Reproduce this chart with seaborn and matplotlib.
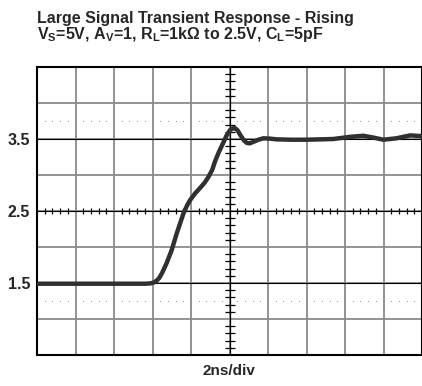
import numpy as np
import matplotlib
matplotlib.use("Agg")
import matplotlib.pyplot as plt
import seaborn as sns

# scope trace (time in ns, 2 ns/div; voltage in V)
time_ns = [0.0, 1.0, 2.0, 3.0, 4.0, 5.0, 5.6, 5.9, 6.05, 6.2, 6.35, 6.5,
           6.74, 7.0, 7.26, 7.6, 7.8, 7.95, 8.2, 8.47, 8.7, 8.9, 9.1, 9.25,
           9.45, 9.68, 9.85, 10.03, 10.18, 10.29, 10.42, 10.55, 10.75, 10.9,
           11.05, 11.24, 11.5, 11.77, 12.1, 12.45, 13.2, 14.0, 15.4, 16.26,
           16.95, 17.47, 17.99, 18.68, 19.38, 20.0]
volts = [1.49, 1.49, 1.49, 1.49, 1.49, 1.49, 1.49, 1.495, 1.505, 1.53, 1.57,
         1.64, 1.78, 1.96, 2.19, 2.46, 2.58, 2.65, 2.74, 2.82, 2.89, 2.97,
         3.07, 3.19, 3.32, 3.45, 3.55, 3.625, 3.65, 3.65, 3.62, 3.56, 3.48,
         3.445, 3.44, 3.46, 3.49, 3.51, 3.505, 3.495, 3.49, 3.49, 3.5, 3.53,
         3.545, 3.52, 3.49, 3.51, 3.55, 3.54]

y_labels = {1.5: "1.5", 2.5: "2.5", 3.5: "3.5"}

sns.set_style("white")
plt.rcParams["font.family"] = ["Liberation Sans", "DejaVu Sans"]
plt.rcParams["mathtext.fontset"] = "custom"
plt.rcParams["mathtext.bf"] = "Liberation Sans:bold"
plt.rcParams["mathtext.rm"] = "Liberation Sans:bold"
plt.rcParams["mathtext.default"] = "bf"

fig = plt.figure(figsize=(4.22, 3.86), dpi=100)
ax = fig.add_axes([37 / 422, 1 - 355 / 386, 1 - 37 / 422, 288 / 386])

ax.set_xlim(0, 20)
ax.set_ylim(0.5, 4.5)

# graticule
ax.set_xticks(np.arange(0, 21, 2))
ax.set_yticks(np.arange(0.5, 4.6, 0.5))
ax.grid(True, color="#8a8a8a", linewidth=1.3)
for v in y_labels:
    ax.axhline(v, color="black", linewidth=0.8, zorder=1.5)
ax.axvline(10, color="black", linewidth=0.9, zorder=1.5)
ax.set_yticklabels([y_labels.get(round(v, 1), "") for v in np.arange(0.5, 4.6, 0.5)],
                   fontsize=11.5, fontweight="bold")
ax.set_xticklabels([])
ax.tick_params(length=0, pad=5)

# center cross minor ticks
sub_x = [x for x in np.arange(0, 20.01, 0.4) if abs(x / 2 - round(x / 2)) > 1e-6]
sub_y = [y for y in np.arange(0.5, 4.51, 0.1) if abs(y * 2 - round(y * 2)) > 1e-6]
ax.plot(sub_x, [2.5] * len(sub_x), ls="none", marker="|", ms=5, mew=0.9,
        color="black", zorder=2)
ax.plot([10] * len(sub_y), sub_y, ls="none", marker="_", ms=7, mew=0.9,
        color="black", zorder=2)
# dotted reference levels
for lvl in (3.75, 1.25):
    ax.plot(sub_x, [lvl] * len(sub_x), ls="none", marker="s", ms=0.6,
            mew=0, color="#8c8c8c", zorder=2)

for s in ax.spines.values():
    s.set_color("black")
    s.set_linewidth(1.5)

sns.lineplot(x=time_ns, y=volts, ax=ax, color="#303030", linewidth=3.2,
             solid_joinstyle="round", solid_capstyle="round", zorder=3)

fig.text(37 / 422, 1 - 19 / 386, "Large Signal Transient Response - Rising",
         fontsize=11.5, fontweight="bold", va="center", ha="left")
fig.text(37 / 422, 1 - 35 / 386,
         r"V$_{S}$=5V, A$_{V}$=1, R$_{L}$=1k$\Omega$ to 2.5V, C$_{L}$=5pF",
         fontsize=11.5, fontweight="bold", va="center", ha="left")
fig.text(229 / 422, 1 - 371 / 386, "2ns/div", fontsize=11,
         fontweight="bold", va="center", ha="center")

fig.savefig("out.png", dpi=100)
